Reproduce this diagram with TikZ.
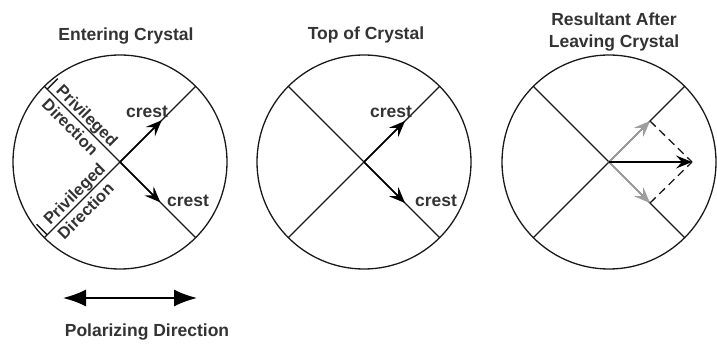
\documentclass[tikz,border=0pt]{standalone}
\usepackage{fontspec}
\setmainfont{Liberation Sans}
\usetikzlibrary{calc,arrows.meta}
\begin{document}
\begin{tikzpicture}[x=1pt,y=1pt,
  ln/.style={line width=1.3pt, black!90},
  ring/.style={circle, draw=black!90, line width=1.3pt, minimum size=214pt, inner sep=0pt},
  crestarrow/.style={line width=1.5pt, black, -{Stealth[length=16pt,width=13pt,inset=6pt]}},
  grayarrow/.style={line width=1.6pt, black!38, -{Stealth[length=16pt,width=13pt,inset=6pt]}},
  dashln/.style={line width=1.3pt, black!90, dash pattern=on 8pt off 5pt},
  polar/.style={line width=1.8pt, black, {Latex[length=23pt,width=17pt]}-{Latex[length=23pt,width=17pt]}},
  lbl/.style={font=\fontsize{17.5}{22}\selectfont\bfseries, text=black!80, inner sep=0pt},
  rlbl/.style={font=\fontsize{16.5}{20}\selectfont\bfseries, text=black!80, inner sep=0pt}
]
\useasboundingbox (0,0) rectangle (717,343);
% circles
\node[ring] (k1) at (120,181) {};
\node[ring] (k2) at (364,181) {};
\node[ring] (k3) at (609,181) {};
\foreach \k in {k1,k2,k3} {
  \draw[ln] (\k.45) -- (\k.225);
  \draw[ln] (\k.135) -- (\k.-45);
}
% titles
\node[lbl] (t1) at (126,307) {Entering Crystal};
\node[lbl] (t2) at (366,308) {Top of Crystal};
\node[lbl, align=center] (t3) at (614,311) {Resultant After\\Leaving Crystal};
% circle 1 arrows
\coordinate (a1) at ($(k1.center)+(45:59)$);
\coordinate (b1) at ($(k1.center)+(-45:57)$);
\draw[crestarrow] (k1.center) -- (a1);
\draw[crestarrow] (k1.center) -- (b1);
\node[lbl] (c1a) at (147,231) {crest};
\node[lbl] (c1b) at (188,142) {crest};
% circle 2 arrows
\coordinate (a2) at ($(k2.center)+(45:58)$);
\coordinate (b2) at ($(k2.center)+(-45:58)$);
\draw[crestarrow] (k2.center) -- (a2);
\draw[crestarrow] (k2.center) -- (b2);
\node[lbl] (c2a) at (391,231) {crest};
\node[lbl] (c2b) at (436,142) {crest};
% circle 3 arrows
\coordinate (a3) at ($(k3.center)+(45:58)$);
\coordinate (b3) at ($(k3.center)+(-45:58)$);
\coordinate (r3) at ($(k3.center)+(0:83)$);
\draw[grayarrow] (k3.center) -- (a3);
\draw[grayarrow] (k3.center) -- (b3);
\draw[dashln] (a3) -- (r3);
\draw[dashln] (b3) -- (r3);
\draw[crestarrow] (k3.center) -- (r3);
% privileged direction labels
\node[rlbl, rotate=-45, anchor=base] (p1) at ($(k1.center)+(135:56)+(45:4)$) {Privileged};
\node[rlbl, rotate=-45, anchor=north] (d1) at ($(k1.center)+(135:60)+(225:4)$) {Direction};
\coordinate (e1) at ($(k1.center)+(135:103)$);
\coordinate (f1) at ($(e1)+(45:15)$);
\draw[ln] (e1) -- (f1);
\node[rlbl, rotate=45, anchor=base] (p2) at ($(k1.center)+(225:55)+(135:4)$) {Privileged};
\node[rlbl, rotate=45, anchor=north] (d2) at ($(k1.center)+(225:59)+(-45:4)$) {Direction};
\coordinate (e2) at ($(k1.center)+(225:103)$);
\coordinate (f2) at ($(e2)+(135:15)$);
\draw[ln] (e2) -- (f2);
% polarizing direction
\coordinate (pl) at (63,45);
\coordinate (pr) at (197,45);
\draw[polar] (pl) -- (pr);
\node[lbl] (pd) at (147,11) {Polarizing Direction};
\end{tikzpicture}
\end{document}
